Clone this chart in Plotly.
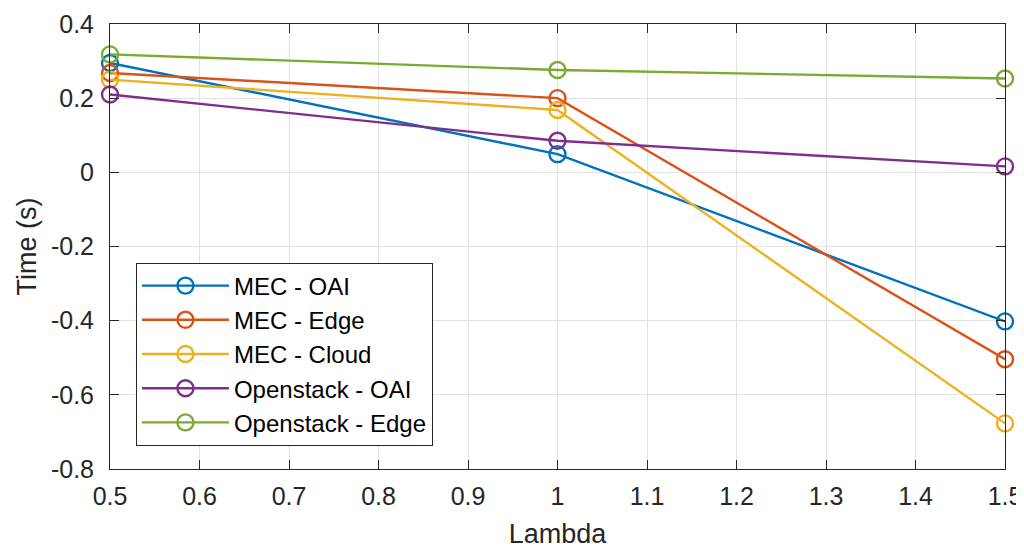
import plotly.graph_objects as go

lam = [0.5, 1.0, 1.5]
mec_oai = [0.295, 0.049, -0.402]
mec_edge = [0.268, 0.200, -0.504]
mec_cloud = [0.250, 0.168, -0.677]
os_oai = [0.210, 0.085, 0.016]
os_edge = [0.318, 0.276, 0.253]

series = [
    ("MEC - OAI", mec_oai, "#0072BD"),
    ("MEC - Edge", mec_edge, "#D95319"),
    ("MEC - Cloud", mec_cloud, "#EDB120"),
    ("Openstack - OAI", os_oai, "#7E2F8E"),
    ("Openstack - Edge", os_edge, "#77AC30"),
]

x_ticks = [0.5, 0.6, 0.7, 0.8, 0.9, 1.0, 1.1, 1.2, 1.3, 1.4, 1.5]
x_tick_labels = ["0.5", "0.6", "0.7", "0.8", "0.9", "1", "1.1", "1.2", "1.3", "1.4", "1.5"]
y_ticks = [-0.8, -0.6, -0.4, -0.2, 0, 0.2, 0.4]
y_tick_labels = ["-0.8", "-0.6", "-0.4", "-0.2", "0", "0.2", "0.4"]

fig = go.Figure()
for name, vals, col in series:
    fig.add_trace(go.Scatter(
        x=lam, y=vals, name=name, mode="lines+markers",
        line=dict(color=col, width=2.4),
        marker=dict(symbol="circle-open", size=16, color=col, line=dict(width=2.4, color=col)),
        cliponaxis=False,
    ))

font_family = "Liberation Sans, Arial, Helvetica, sans-serif"
axis_common = dict(
    showline=True, linecolor="#262626", linewidth=1, mirror="ticks",
    ticks="inside", ticklen=9, tickcolor="#262626", tickwidth=1,
    showgrid=True, gridcolor="#e3e3e3", gridwidth=1, zeroline=False,
    automargin=False,
    tickfont=dict(size=25, color="#262626", family=font_family),
)

# the page body has an 8px margin, so the margins are offset by 8px
fig.update_layout(
    width=1024, height=550,
    margin=dict(l=102, r=27, t=16, b=89, autoexpand=False),
    paper_bgcolor="white", plot_bgcolor="white",
    font=dict(family=font_family, color="#262626"),
    xaxis=dict(range=[0.5, 1.5], tickvals=x_ticks, ticktext=x_tick_labels,
               title=dict(text="Lambda", font=dict(size=27, color="#262626"), standoff=15),
               ticklabelstandoff=5, **axis_common),
    yaxis=dict(range=[-0.8, 0.4], tickvals=y_ticks, ticktext=y_tick_labels,
               title=dict(text="Time (s)", font=dict(size=27, color="#262626"), standoff=6),
               ticklabelstandoff=10, **axis_common),
    legend=dict(x=0.029, y=0.464, xanchor="left", yanchor="top",
                bgcolor="white", bordercolor="#262626", borderwidth=1,
                font=dict(size=24, color="#000000", family=font_family),
                itemwidth=87, tracegroupgap=0),
    showlegend=True,
)

fig.write_html("out.html")
